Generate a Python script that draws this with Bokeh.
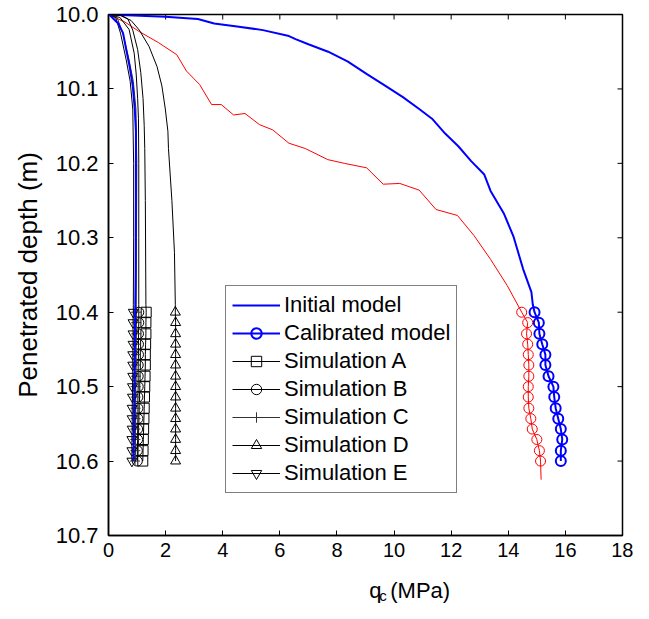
import math
from bokeh.plotting import figure
from bokeh.layouts import column
from bokeh.models import (Range1d, FixedTicker, PrintfTickFormatter,
                          Legend, LegendItem)
from bokeh.core.properties import value
from bokeh.embed import file_html
from bokeh.resources import INLINE

FONT = "Liberation Sans"

# ---------------- data ----------------
x_ticks = [0, 2, 4, 6, 8, 10, 12, 14, 16, 18]
y_ticks = [10.0, 10.1, 10.2, 10.3, 10.4, 10.5, 10.6, 10.7]

marker_depth = [10.400, 10.414, 10.429, 10.443, 10.457, 10.471, 10.486, 10.500,
                10.514, 10.529, 10.543, 10.557, 10.571, 10.586, 10.600]

# Calibrated model (blue, long curve)
cal_depth = [10.000, 10.003, 10.006, 10.012, 10.016, 10.021, 10.029, 10.033, 10.040,
             10.050, 10.063, 10.080, 10.097, 10.111, 10.127, 10.140, 10.160, 10.177,
             10.197, 10.215, 10.237, 10.267, 10.298, 10.342, 10.373, 10.390]
cal_qc = [0.00, 1.99, 3.13, 3.70, 4.50, 5.41, 6.32, 6.55, 7.00, 7.69, 8.37, 9.05,
          9.74, 10.31, 10.88, 11.33, 11.79, 12.25, 12.70, 13.16, 13.38, 13.84,
          14.18, 14.52, 14.81, 14.86]
cal_marker_qc = [14.92, 15.07, 15.09, 15.19, 15.30, 15.30, 15.41, 15.58, 15.61,
                 15.66, 15.75, 15.84, 15.89, 15.84, 15.84]

# Red curve (with red circles, not in legend)
red_depth = [10.000, 10.010, 10.023, 10.038, 10.054, 10.076, 10.094, 10.121, 10.121,
             10.135, 10.133, 10.148, 10.155, 10.173, 10.180, 10.195, 10.200, 10.206,
             10.228, 10.227, 10.236, 10.262, 10.270, 10.297, 10.329, 10.364]
red_qc = [0.00, 0.57, 1.08, 1.76, 2.39, 2.73, 3.19, 3.61, 3.95, 4.38, 4.78, 5.29,
          5.75, 6.32, 6.89, 7.68, 8.26, 9.04, 9.62, 10.20, 10.88, 11.47, 12.22,
          12.80, 13.38, 13.96]
red_marker_qc = [14.47, 14.68, 14.64, 14.68, 14.70, 14.72, 14.72, 14.70, 14.70,
                 14.72, 14.79, 14.84, 15.00, 15.09, 15.13]
red_tail_depth = [10.625]
red_tail_qc = [15.15]

# Initial model (blue, near 1 MPa)
ini_depth = [10.000, 10.001, 10.012, 10.025, 10.047, 10.070, 10.096, 10.127, 10.157,
             10.250, 10.350, 10.450, 10.600]
ini_qc = [0.00, 0.05, 0.34, 0.51, 0.62, 0.74, 0.85, 0.92, 0.96, 0.96, 0.95, 0.92, 0.88]

# Simulation A (squares)
a_depth = [10.000, 10.001, 10.006, 10.021, 10.047, 10.078, 10.113, 10.149, 10.180,
           10.250, 10.390]
a_qc = [0.00, 0.45, 0.68, 0.85, 1.02, 1.13, 1.21, 1.25, 1.27, 1.29, 1.31]
a_marker_qc = [1.32, 1.31, 1.31, 1.30, 1.29, 1.29, 1.28, 1.27, 1.26, 1.25, 1.24,
               1.23, 1.22, 1.21, 1.20]

# Simulation B (circles)
b_depth = [10.000, 10.004, 10.020, 10.052, 10.080, 10.113, 10.140, 10.200, 10.300, 10.390]
b_qc = [0.00, 0.40, 0.72, 0.90, 0.97, 1.02, 1.05, 1.06, 1.06, 1.06]
b_marker_qc = [1.06, 1.06, 1.05, 1.05, 1.05, 1.04, 1.04, 1.04, 1.03, 1.03, 1.03,
               1.02, 1.02, 1.01, 1.01]

# Simulation C (plus)
c_depth = [10.000, 10.004, 10.025, 10.061, 10.090, 10.127, 10.200, 10.300, 10.390]
c_qc = [0.00, 0.30, 0.50, 0.72, 0.87, 0.96, 0.99, 0.98, 0.97]
c_marker_qc = [0.97, 0.97, 0.97, 0.96, 0.96, 0.96, 0.96, 0.95, 0.95, 0.95, 0.95,
               0.94, 0.94, 0.94, 0.93]

# Simulation D (triangles)
d_depth = [10.000, 10.001, 10.008, 10.021, 10.043, 10.070, 10.096, 10.127, 10.157,
           10.180, 10.250, 10.320, 10.390]
d_qc = [0.00, 0.39, 0.79, 1.08, 1.42, 1.70, 1.87, 1.99, 2.08, 2.10, 2.22, 2.31, 2.34]
d_marker_qc = [2.34, 2.35, 2.35, 2.35, 2.35, 2.35, 2.35, 2.35, 2.35, 2.35, 2.35,
               2.35, 2.35, 2.35, 2.35]

# Simulation E (inverted triangles)
e_depth = [10.000, 10.004, 10.025, 10.061, 10.090, 10.127, 10.200, 10.300, 10.390]
e_qc = [0.00, 0.25, 0.42, 0.62, 0.76, 0.85, 0.88, 0.88, 0.87]
e_marker_qc = [0.87, 0.86, 0.86, 0.86, 0.85, 0.85, 0.85, 0.84, 0.84, 0.83, 0.83,
               0.83, 0.82, 0.82, 0.82]

legend_labels = ["Initial model", "Calibrated model", "Simulation A", "Simulation B",
                 "Simulation C", "Simulation D", "Simulation E"]

W = 633
H_MAIN = 565
H_TITLE = 38
LEFT = 108
RIGHT = 11

# ---------------- main figure ----------------
p = figure(width=W, height=H_MAIN, output_backend="svg", toolbar_location=None,
           x_range=Range1d(0, 18), y_range=Range1d(10.7, 10.0),
           min_border_left=LEFT, min_border_right=RIGHT, min_border_top=14,
           min_border_bottom=30)
p.grid.visible = False
p.outline_line_color = "black"
p.outline_line_width = 1.5
p.background_fill_color = "white"
p.border_fill_color = "white"

for ax in (p.xaxis[0], p.yaxis[0]):
    ax.major_tick_in = 5
    ax.major_tick_out = 0
    ax.minor_tick_in = 0
    ax.minor_tick_out = 0
    ax.axis_line_width = 1.5
    ax.axis_line_color = "black"
    ax.major_tick_line_width = 1
    ax.major_tick_line_color = "black"
    ax.major_label_text_font = FONT
    ax.major_label_text_color = "black"

p.xaxis.ticker = FixedTicker(ticks=x_ticks)
p.xaxis.major_label_text_font_size = "20px"
p.xaxis.major_label_standoff = 7
p.yaxis.ticker = FixedTicker(ticks=y_ticks)
p.yaxis.formatter = PrintfTickFormatter(format="%.1f")
p.yaxis.major_label_text_font_size = "22px"
p.yaxis.major_label_standoff = 10
p.yaxis.axis_label = "Penetrated depth (m)"
p.yaxis.axis_label_text_font = FONT
p.yaxis.axis_label_text_font_size = "26px"
p.yaxis.axis_label_text_font_style = "normal"
p.yaxis.axis_label_text_color = "black"
p.yaxis.axis_label_standoff = 10

# inward ticks on the top and right edges of the box
p.scatter(x_ticks, [y_ticks[0]] * len(x_ticks), marker="dash", angle=math.pi / 2,
          size=10, line_color="black", line_width=1)
p.scatter([x_ticks[-1]] * len(y_ticks), y_ticks, marker="dash", angle=0,
          size=10, line_color="black", line_width=1)

# ---------------- curves ----------------
cal_line = p.line(cal_qc + cal_marker_qc, cal_depth + marker_depth,
                  line_color="#0000ff", line_width=2)
cal_mk = p.scatter(cal_marker_qc, marker_depth, marker="circle", size=10,
                   fill_color=None, line_color="#0000ff", line_width=2)

p.line(red_qc + red_marker_qc + red_tail_qc, red_depth + marker_depth + red_tail_depth,
       line_color="#ff0000", line_width=1)
p.scatter(red_marker_qc, marker_depth, marker="circle", size=10,
          fill_color=None, line_color="#ff0000", line_width=1)

sims = [
    (a_qc, a_depth, a_marker_qc, "square", "black"),
    (b_qc, b_depth, b_marker_qc, "circle", "black"),
    (c_qc, c_depth, c_marker_qc, "cross", "#333333"),
    (d_qc, d_depth, d_marker_qc, "triangle", "black"),
    (e_qc, e_depth, e_marker_qc, "inverted_triangle", "black"),
]
sim_renderers = []
for qc, dep, mqc, mk, col in sims:
    ln = p.line(qc + mqc, dep + marker_depth, line_color=col, line_width=1)
    sc = p.scatter(mqc, marker_depth, marker=mk, size=10, fill_color=None,
                   line_color=col, line_width=1)
    sim_renderers.append((ln, sc))

ini_line = p.line(ini_qc, ini_depth, line_color="#0000ff", line_width=2)

items = [LegendItem(label=legend_labels[0], renderers=[ini_line]),
         LegendItem(label=legend_labels[1], renderers=[cal_line, cal_mk])]
for lab, (ln, sc) in zip(legend_labels[2:], sim_renderers):
    items.append(LegendItem(label=lab, renderers=[ln, sc]))

legend = Legend(items=items, location=(117, 42), orientation="vertical",
                border_line_color="black", border_line_width=1.5,
                background_fill_color="white", background_fill_alpha=1.0,
                label_text_font=FONT, label_text_font_size="22px",
                label_text_color="black", glyph_width=48, glyph_height=26,
                label_height=26, label_standoff=4, spacing=2, padding=6)
p.add_layout(legend, "center")

# ---------------- x-axis title strip: q_c (MPa) ----------------
t = figure(width=W, height=H_TITLE, output_backend="svg", toolbar_location=None,
           x_range=Range1d(0, W), y_range=Range1d(0, H_TITLE),
           x_axis_type=None, y_axis_type=None,
           min_border_left=0, min_border_right=0, min_border_top=0,
           min_border_bottom=0)
t.grid.visible = False
t.outline_line_color = None
t.background_fill_color = "white"
t.border_fill_color = "white"
cx = LEFT + (W - LEFT - RIGHT) / 2.0
t.text(x=[cx - 44], y=[13], text=["q"], text_font=value(FONT), text_font_size="22px",
       text_color="black", text_baseline="alphabetic", text_align="left")
t.text(x=[cx - 31.5], y=[8], text=["c"], text_font=value(FONT), text_font_size="15px",
       text_color="black", text_baseline="alphabetic", text_align="left")
t.text(x=[cx - 18], y=[13], text=["(MPa)"], text_font=value(FONT), text_font_size="22px",
       text_color="black", text_baseline="alphabetic", text_align="left")

layout = column(p, t, spacing=0)
open("out.html", "w").write(file_html(layout, INLINE))
